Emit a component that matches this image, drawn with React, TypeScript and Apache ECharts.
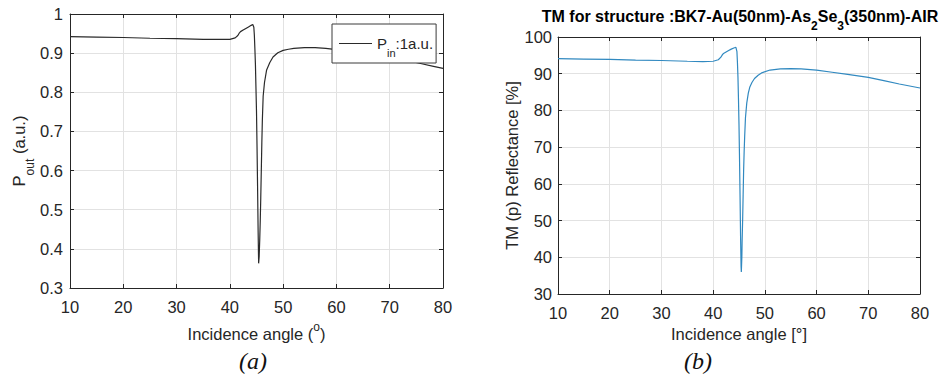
import React, { useEffect, useRef } from "react";
import * as echarts from "echarts";

// Panel (a): output power vs incidence angle
const anglesA = [10, 15, 20, 25, 30, 35, 38, 40, 41, 41.5, 41.8, 42, 42.5, 43, 43.5, 44, 44.3, 44.5, 44.6, 44.7, 44.8, 44.9, 45.0, 45.1, 45.2, 45.3, 45.4, 45.5, 45.6, 45.7, 45.8, 45.9, 46.0, 46.1, 46.25, 46.5, 46.9, 47.5, 48.1, 49, 50, 51, 52, 54, 56, 58, 60, 62, 65, 68, 70, 73, 76, 78, 80];
const poutA = [0.942, 0.941, 0.940, 0.938, 0.937, 0.935, 0.935, 0.935, 0.939, 0.945, 0.952, 0.955, 0.959, 0.963, 0.967, 0.971, 0.973, 0.966, 0.945, 0.91, 0.87, 0.81, 0.75, 0.66, 0.56, 0.45, 0.363, 0.38, 0.42, 0.47, 0.53, 0.60, 0.67, 0.73, 0.79, 0.825, 0.857, 0.876, 0.89, 0.901, 0.907, 0.910, 0.912, 0.914, 0.914, 0.912, 0.909, 0.906, 0.901, 0.895, 0.890, 0.882, 0.873, 0.867, 0.861];

// Panel (b): TM reflectance (%) vs incidence angle
const anglesB = [10, 15, 20, 25, 30, 35, 38, 40, 41, 41.5, 41.8, 42, 42.5, 43, 43.5, 44, 44.4, 44.6, 44.7, 44.8, 44.9, 45.0, 45.1, 45.2, 45.3, 45.4, 45.45, 45.55, 45.6, 45.7, 45.8, 45.9, 46.0, 46.1, 46.25, 46.5, 46.8, 47.1, 47.5, 48, 48.7, 49.5, 51, 53, 55, 57, 60, 63, 66, 70, 73, 76, 80];
const reflB = [94.1, 94.0, 93.9, 93.7, 93.6, 93.4, 93.3, 93.4, 93.8, 94.5, 95.2, 95.5, 95.9, 96.3, 96.7, 97.0, 97.2, 96.0, 93, 89, 83, 76, 67, 57, 46, 37.5, 36.0, 40, 44, 50, 57, 64, 69, 73, 78, 82, 84.7, 86.4, 87.6, 88.7, 89.6, 90.3, 91.0, 91.3, 91.4, 91.3, 91.0, 90.4, 89.8, 89.0, 88.1, 87.2, 86.1];

const xRange = [10, 80];
const yRangeA = [0.3, 1];
const yRangeB = [30, 100];

const FONT = "'Liberation Sans', Arial, Helvetica, sans-serif";
const TXT = "#262626";
const GRIDC = "#e2e2e2";
const FS = 16.5;

const nameRich = {
  n: { fontSize: FS, fontFamily: FONT, color: TXT, lineHeight: 18 },
  s: { fontSize: 12, fontFamily: FONT, color: TXT, lineHeight: 18, padding: [22, 0, 0, 0] },
  u: { fontSize: 12, fontFamily: FONT, color: TXT, lineHeight: 18, padding: [0, 0, 14, 0] },
};

const legendRich = {
  n: { fontSize: 15, fontFamily: FONT, color: TXT, lineHeight: 18 },
  s: { fontSize: 11, fontFamily: FONT, color: TXT, lineHeight: 18, padding: [18, 0, 0, 0] },
};

function xAxisCfg(gridIndex: number, name: string, nameGap: number) {
  return {
    type: "value",
    gridIndex,
    min: xRange[0],
    max: xRange[1],
    interval: 10,
    name,
    nameLocation: "middle",
    nameGap,
    nameTextStyle: { rich: nameRich },
    axisLine: { show: true, lineStyle: { color: TXT, width: 1 } },
    axisTick: { show: true, inside: true, length: 4, lineStyle: { color: TXT } },
    axisLabel: { fontSize: FS, fontFamily: FONT, color: TXT, margin: 10 },
    splitLine: { show: true, lineStyle: { color: GRIDC, width: 1 } },
  };
}

function xTopCfg(gridIndex: number) {
  return {
    type: "value",
    gridIndex,
    position: "top",
    min: xRange[0],
    max: xRange[1],
    interval: 10,
    axisLine: { show: true, lineStyle: { color: TXT, width: 1 } },
    axisTick: { show: true, inside: true, length: 4, lineStyle: { color: TXT } },
    axisLabel: { show: false },
    splitLine: { show: false },
  };
}

function yAxisCfg(gridIndex: number, min: number, max: number, interval: number, name: string, nameGap: number, margin: number, fmt?: (v: number) => string) {
  return {
    type: "value",
    gridIndex,
    min,
    max,
    interval,
    name,
    nameLocation: "middle",
    nameGap,
    nameTextStyle: { rich: nameRich },
    axisLine: { show: true, lineStyle: { color: TXT, width: 1 } },
    axisTick: { show: true, inside: true, length: 4, lineStyle: { color: TXT } },
    axisLabel: { fontSize: FS, fontFamily: FONT, color: TXT, margin, formatter: fmt },
    splitLine: { show: true, lineStyle: { color: GRIDC, width: 1 } },
  };
}

function yRightCfg(gridIndex: number, min: number, max: number, interval: number) {
  return {
    type: "value",
    gridIndex,
    position: "right",
    min,
    max,
    interval,
    axisLine: { show: true, lineStyle: { color: TXT, width: 1 } },
    axisTick: { show: true, inside: true, length: 4, lineStyle: { color: TXT } },
    axisLabel: { show: false },
    splitLine: { show: false },
  };
}

export default function App() {
  const ref = useRef<HTMLDivElement>(null);
  useEffect(() => {
    if (!ref.current) return;
    const chart = echarts.init(ref.current, undefined, { renderer: "svg" });
    const dataA = anglesA.map((a, i) => [a, poutA[i]]);
    const dataB = anglesB.map((a, i) => [a, reflB[i]]);
    chart.setOption({
      animation: false,
      backgroundColor: "#ffffff",
      grid: [
        { left: 70, top: 14, width: 373, height: 274, show: false },
        { left: 558, top: 37, width: 362, height: 257, show: false },
      ],
      legend: {
        data: ["Pin"],
        left: 332,
        top: 24,
        orient: "horizontal",
        icon: "rect",
        itemWidth: 33,
        itemHeight: 1,
        padding: [5, 3, 5, 7],
        backgroundColor: "#ffffff",
        borderColor: "#3a3a3a",
        borderWidth: 1,
        borderRadius: 0,
        formatter: () => "{n|P}{s|in}{n|:1a.u.}",
        textStyle: { rich: legendRich },
      },
      xAxis: [
        xAxisCfg(0, "{n|Incidence angle (}{u|o}{n|)}", 37),
        xAxisCfg(1, "{n|Incidence angle [°]}", 31),
        xTopCfg(0),
        xTopCfg(1),
      ],
      yAxis: [
        yAxisCfg(0, yRangeA[0], yRangeA[1], 0.1, "{n|P}{s|out}{n| (a.u.)}", 42, 7, (v: number) => (v === 1 ? "1" : v.toFixed(1))),
        yAxisCfg(1, yRangeB[0], yRangeB[1], 10, "{n|TM (p) Reflectance [%]}", 36, 6),
        yRightCfg(0, yRangeA[0], yRangeA[1], 0.1),
        yRightCfg(1, yRangeB[0], yRangeB[1], 10),
      ],
      series: [
        {
          name: "Pin",
          type: "line",
          xAxisIndex: 0,
          yAxisIndex: 0,
          data: dataA,
          symbol: "none",
          lineStyle: { color: "#2a2a2a", width: 1.2 },
          itemStyle: { color: "#2a2a2a" },
        },
        {
          name: "TM",
          type: "line",
          xAxisIndex: 1,
          yAxisIndex: 1,
          data: dataB,
          symbol: "none",
          lineStyle: { color: "#3189c0", width: 1.2 },
          itemStyle: { color: "#3189c0" },
        },
      ],
      graphic: [
        {
          type: "text",
          x: 740,
          y: 16,
          style: {
            text: "{t|TM for structure :BK7-Au(50nm)-As}{ts|2}{t|Se}{ts|3}{t|(350nm)-AIR}",
            align: "center",
            verticalAlign: "middle",
            rich: {
              t: { fontSize: 16, fontWeight: "bold", fontFamily: FONT, color: "#1a1a1a", lineHeight: 18 },
              ts: { fontSize: 12, fontWeight: "bold", fontFamily: FONT, color: "#1a1a1a", lineHeight: 18, padding: [19, 0, 0, 0] },
            },
          },
        },
        {
          type: "text",
          x: 253,
          y: 361,
          style: {
            text: "(a)",
            fontSize: 24,
            fontStyle: "italic",
            fontFamily: "'Liberation Serif', 'Times New Roman', serif",
            fill: "#111",
            align: "center",
            verticalAlign: "middle",
          },
        },
        {
          type: "text",
          x: 698,
          y: 361,
          style: {
            text: "(b)",
            fontSize: 24,
            fontStyle: "italic",
            fontFamily: "'Liberation Serif', 'Times New Roman', serif",
            fill: "#111",
            align: "center",
            verticalAlign: "middle",
          },
        },
      ],
    });
    return () => chart.dispose();
  }, []);
  return (
    <div
      ref={ref}
      style={{ position: "fixed", left: 0, top: 0, width: 949, height: 376, background: "#fff" }}
    />
  );
}
